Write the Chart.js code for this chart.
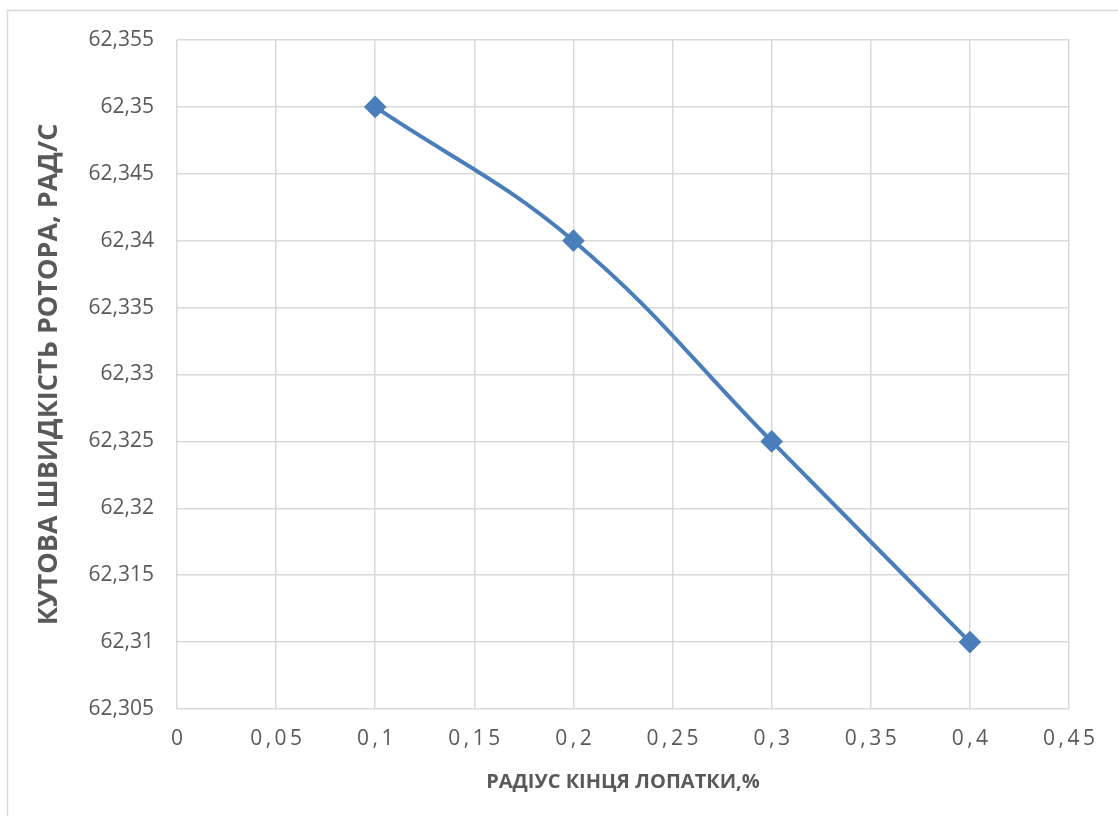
<!DOCTYPE html>
<html>
<head>
<meta charset="utf-8">
<script src="https://cdn.jsdelivr.net/npm/chart.js@4/dist/chart.umd.min.js"></script>
<style>
  html, body { margin: 0; padding: 0; background: #fff; }
  #wrap { position: relative; width: 1118px; height: 816px; }
</style>
</head>
<body>
<div id="wrap"><canvas id="myChart"></canvas></div>
<script>
// values
const radius = [0.1, 0.2, 0.3, 0.4];
const speed = [62.35, 62.34, 62.325, 62.31];
const xTickValues = [0, 0.05, 0.1, 0.15, 0.2, 0.25, 0.3, 0.35, 0.4, 0.45];
const yTickValues = [62.305, 62.31, 62.315, 62.32, 62.325, 62.33, 62.335, 62.34, 62.345, 62.35, 62.355];
const xTitle = 'РАДІУС КІНЦЯ ЛОПАТКИ,%';
const yTitle = 'КУТОВА ШВИДКІСТЬ РОТОРА, РАД/С';

const comma = (v) => String(v).replace('.', ',');
const gridColor = '#d9d9d9';
const textColor = '#595959';

// frame of the chart object (left + top edge visible)
const framePlugin = {
    id: 'frame',
    beforeDraw(chart) {
        const c = chart.ctx;
        c.save();
        c.strokeStyle = gridColor;
        c.lineWidth = 1.5;
        c.beginPath();
        c.moveTo(7.5, 816);
        c.lineTo(7.5, 10.5);
        c.lineTo(1118, 10.5);
        c.stroke();
        c.restore();
    }
};

// spaced-out x tick labels like the original
const spacedTicks = {
    id: 'spacedTicks',
    afterUpdate(chart) {
        const s = chart.scales.x;
        if (s && !s._spaced) {
            const orig = s.drawLabels.bind(s);
            s.drawLabels = function (area) {
                this.ctx.save();
                this.ctx.letterSpacing = '3.5px';
                this.ctx.translate(1.75, 0);
                orig(area);
                this.ctx.restore();
            };
            s._spaced = true;
        }
    }
};

const data = radius.map((x, i) => ({ x: x, y: speed[i] }));

new Chart(document.getElementById('myChart'), {
    type: 'scatter',
    data: {
        datasets: [{
            data: data,
            showLine: true,
            tension: 0.4,
            borderColor: '#4a7ebb',
            backgroundColor: '#4a7ebb',
            borderWidth: 4,
            pointStyle: 'rectRot',
            pointRadius: 8.5,
            pointHoverRadius: 8.5,
            clip: false
        }]
    },
    options: {
        responsive: true,
        maintainAspectRatio: false,
        animation: false,
        layout: { padding: { top: 40, right: 49, left: 0, bottom: 0 } },
        plugins: {
            legend: { display: false },
            tooltip: { enabled: false }
        },
        scales: {
            x: {
                type: 'linear',
                min: 0,
                max: 0.45,
                afterBuildTicks: (scale) => { scale.ticks = xTickValues.map(v => ({ value: v })); },
                afterFit: (scale) => { scale.height = 107; },
                grid: { color: gridColor, lineWidth: 1.5, drawTicks: false },
                border: { display: false },
                ticks: {
                    color: textColor,
                    font: { family: 'Open Sans', size: 21 },
                    padding: 17,
                    maxRotation: 0,
                    callback: (v) => comma(v)
                },
                title: {
                    display: true,
                    text: xTitle,
                    color: textColor,
                    font: { family: 'Open Sans', size: 20, weight: 'bold' },
                    padding: { top: 0, bottom: 22 }
                }
            },
            y: {
                type: 'linear',
                min: 62.305,
                max: 62.355,
                afterBuildTicks: (scale) => { scale.ticks = yTickValues.map(v => ({ value: v })); },
                afterFit: (scale) => { scale.width = 177; },
                grid: { color: gridColor, lineWidth: 1.5, drawTicks: false },
                border: { display: false },
                ticks: {
                    color: textColor,
                    font: { family: 'Open Sans', size: 21 },
                    padding: 23,
                    callback: (v) => comma(v)
                },
                title: {
                    display: true,
                    text: yTitle,
                    color: textColor,
                    font: { family: 'Open Sans', size: 27, weight: 'bold' },
                    padding: { top: 33, bottom: 0 }
                }
            }
        }
    },
    plugins: [framePlugin, spacedTicks]
});
</script>
</body>
</html>
